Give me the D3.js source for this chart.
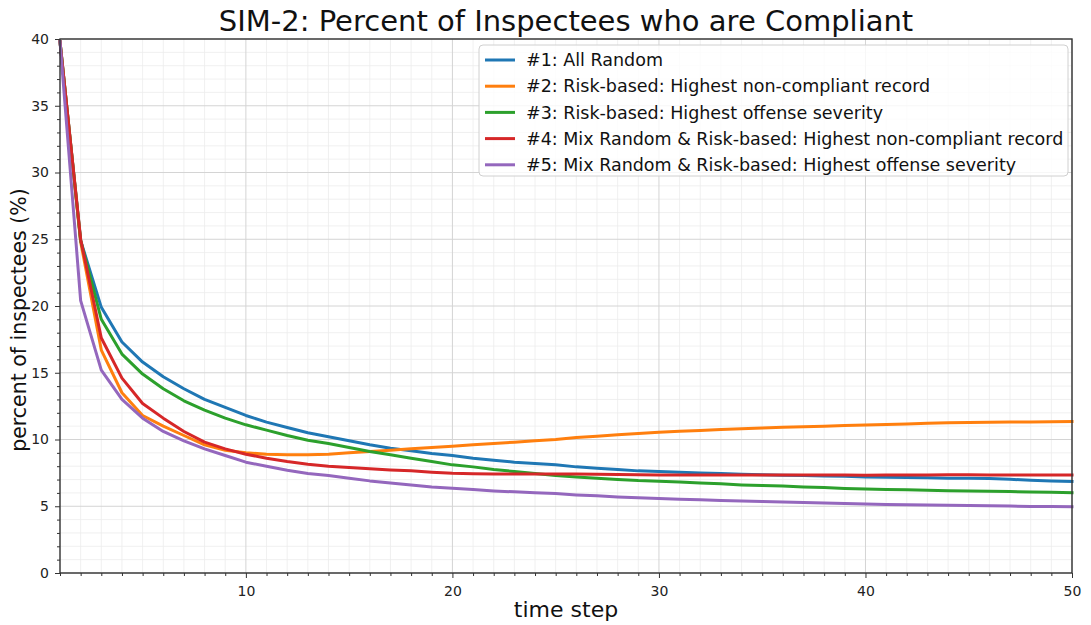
<!DOCTYPE html>
<html>
<head>
<meta charset="utf-8">
<script src="https://cdn.jsdelivr.net/npm/d3@7"></script>
<style>
  html, body { margin: 0; padding: 0; background: #fff; }
  svg { display: block; font-family: "DejaVu Sans", sans-serif; }
</style>
</head>
<body>
<svg id="chart" width="1091" height="625"></svg>
<script>
// Simulation output: percent of compliant inspectees per time step (1..50)
const timeSteps = d3.range(1, 51);

const seriesNames = [
  "#1: All Random",
  "#2: Risk-based: Highest non-compliant record",
  "#3: Risk-based: Highest offense severity",
  "#4: Mix Random & Risk-based: Highest non-compliant record",
  "#5: Mix Random & Risk-based: Highest offense severity"
];

const seriesColors = ["#1f77b4", "#ff7f0e", "#2ca02c", "#d62728", "#9467bd"];

const allRandom = [39.8, 24.9, 19.9, 17.3, 15.8, 14.7, 13.8, 13.0, 12.4, 11.8,
  11.3, 10.9, 10.5, 10.2, 9.9, 9.6, 9.35, 9.15, 8.95, 8.8,
  8.6, 8.45, 8.3, 8.2, 8.1, 7.95, 7.85, 7.75, 7.65, 7.6,
  7.55, 7.5, 7.45, 7.4, 7.36, 7.33, 7.3, 7.27, 7.24, 7.2,
  7.18, 7.15, 7.13, 7.1, 7.1, 7.08, 7.02, 6.95, 6.9, 6.85];

const riskRecord = [39.8, 24.8, 16.7, 13.5, 11.8, 11.0, 10.3, 9.6, 9.2, 9.0,
  8.9, 8.85, 8.85, 8.9, 9.0, 9.1, 9.2, 9.3, 9.4, 9.5,
  9.6, 9.7, 9.8, 9.9, 10.0, 10.15, 10.25, 10.35, 10.45, 10.55,
  10.62, 10.68, 10.74, 10.8, 10.86, 10.91, 10.96, 11.0, 11.05, 11.09,
  11.13, 11.17, 11.22, 11.26, 11.28, 11.3, 11.31, 11.32, 11.33, 11.34];

const riskSeverity = [39.8, 24.9, 19.0, 16.4, 14.9, 13.8, 12.9, 12.2, 11.6, 11.1,
  10.7, 10.3, 9.95, 9.7, 9.4, 9.1, 8.85, 8.6, 8.35, 8.1,
  7.95, 7.75, 7.6, 7.45, 7.3, 7.2, 7.1, 7.0, 6.92, 6.88,
  6.82, 6.75, 6.68, 6.6, 6.55, 6.52, 6.45, 6.4, 6.33, 6.29,
  6.26, 6.23, 6.2, 6.17, 6.15, 6.13, 6.1, 6.07, 6.04, 6.02];

const mixRecord = [39.8, 25.0, 17.6, 14.6, 12.7, 11.6, 10.6, 9.8, 9.3, 8.9,
  8.6, 8.35, 8.15, 8.0, 7.9, 7.8, 7.72, 7.65, 7.55, 7.47,
  7.44, 7.42, 7.42, 7.42, 7.42, 7.42, 7.4, 7.38, 7.36, 7.34,
  7.34, 7.34, 7.35, 7.35, 7.35, 7.35, 7.34, 7.34, 7.34, 7.33,
  7.34, 7.35, 7.35, 7.36, 7.36, 7.35, 7.35, 7.35, 7.35, 7.35];

const mixSeverity = [39.8, 20.4, 15.2, 13.0, 11.6, 10.6, 9.9, 9.3, 8.8, 8.3,
  8.0, 7.7, 7.45, 7.3, 7.1, 6.9, 6.75, 6.6, 6.45, 6.35,
  6.25, 6.15, 6.08, 6.02, 5.95, 5.85, 5.78, 5.7, 5.63, 5.58,
  5.53, 5.48, 5.44, 5.4, 5.36, 5.32, 5.28, 5.24, 5.2, 5.17,
  5.14, 5.11, 5.09, 5.07, 5.05, 5.03, 5.01, 4.99, 4.98, 4.97];

const seriesValues = [allRandom, riskRecord, riskSeverity, mixRecord, mixSeverity];

const xMajorTicks = [10, 20, 30, 40, 50];
const yMajorTicks = [0, 5, 10, 15, 20, 25, 30, 35, 40];

// Layout
const svg = d3.select("#chart");
const margin = { left: 60, right: 19, top: 39, bottom: 52 };
const W = 1091, H = 625;
const plotW = W - margin.left - margin.right;
const plotH = H - margin.top - margin.bottom;

const x = d3.scaleLinear().domain([1, 50]).range([margin.left, margin.left + plotW]);
const y = d3.scaleLinear().domain([0, 40]).range([margin.top + plotH, margin.top]);

const xMinor = d3.range(1, 51).filter(v => !xMajorTicks.includes(v));
const yMinor = d3.range(0, 41).filter(v => !yMajorTicks.includes(v));

// Grid: minor then major
const grid = svg.append("g");
grid.selectAll("line.xmin").data(xMinor).join("line")
  .attr("x1", d => x(d)).attr("x2", d => x(d))
  .attr("y1", y(0)).attr("y2", y(40))
  .attr("stroke", "#ececec").attr("stroke-width", 0.8);
grid.selectAll("line.ymin").data(yMinor).join("line")
  .attr("x1", x(1)).attr("x2", x(50))
  .attr("y1", d => y(d)).attr("y2", d => y(d))
  .attr("stroke", "#ececec").attr("stroke-width", 0.8);
grid.selectAll("line.xmaj").data(xMajorTicks).join("line")
  .attr("x1", d => x(d)).attr("x2", d => x(d))
  .attr("y1", y(0)).attr("y2", y(40))
  .attr("stroke", "#d4d4d4").attr("stroke-width", 1);
grid.selectAll("line.ymaj").data(yMajorTicks).join("line")
  .attr("x1", x(1)).attr("x2", x(50))
  .attr("y1", d => y(d)).attr("y2", d => y(d))
  .attr("stroke", "#d4d4d4").attr("stroke-width", 1);

// Series lines
const line = d3.line()
  .x((d, i) => x(timeSteps[i]))
  .y(d => y(d));

svg.append("g").selectAll("path").data(seriesValues).join("path")
  .attr("d", d => line(d))
  .attr("fill", "none")
  .attr("stroke", (d, i) => seriesColors[i])
  .attr("stroke-width", 3)
  .attr("stroke-linejoin", "round")
  .attr("stroke-linecap", "square");

// Axes
const axisColor = "#333";
const xAxis = svg.append("g").attr("transform", `translate(0,${y(0)})`)
  .call(d3.axisBottom(x).tickValues(xMajorTicks).tickSize(5).tickPadding(8).tickFormat(d3.format("d")));
const xAxisMinor = svg.append("g").attr("transform", `translate(0,${y(0)})`)
  .call(d3.axisBottom(x).tickValues(xMinor).tickSize(3).tickFormat(""));
const yAxis = svg.append("g").attr("transform", `translate(${x(1)},0)`)
  .call(d3.axisLeft(y).tickValues(yMajorTicks).tickSize(5).tickPadding(6).tickFormat(d3.format("d")));
const yAxisMinor = svg.append("g").attr("transform", `translate(${x(1)},0)`)
  .call(d3.axisLeft(y).tickValues(yMinor).tickSize(3).tickFormat(""));

[xAxis, xAxisMinor, yAxis, yAxisMinor].forEach(a => {
  a.select(".domain").remove();
  a.selectAll(".tick line").attr("stroke", axisColor).attr("stroke-width", 1);
  a.selectAll(".tick text").attr("fill", "#222").style("font-size", "14px")
    .style("font-family", "'DejaVu Sans', sans-serif");
});

// Frame
svg.append("rect")
  .attr("x", x(1)).attr("y", y(40))
  .attr("width", x(50) - x(1)).attr("height", y(0) - y(40))
  .attr("fill", "none").attr("stroke", axisColor).attr("stroke-width", 1.4);

// Title and axis labels
svg.append("text")
  .attr("x", (x(1) + x(50)) / 2).attr("y", 31)
  .attr("text-anchor", "middle")
  .style("font-size", "29px").attr("fill", "#111")
  .text("SIM-2: Percent of Inspectees who are Compliant");

svg.append("text")
  .attr("x", (x(1) + x(50)) / 2).attr("y", 617)
  .attr("text-anchor", "middle")
  .style("font-size", "22px").attr("fill", "#111")
  .text("time step");

svg.append("text")
  .attr("transform", `translate(26,320) rotate(-90)`)
  .attr("text-anchor", "middle")
  .style("font-size", "20.5px").attr("fill", "#111")
  .text("percent of inspectees (%)");

// Legend
const legend = svg.append("g").attr("transform", "translate(479,45)");
legend.append("rect")
  .attr("width", 589).attr("height", 131).attr("rx", 4)
  .attr("fill", "rgba(255,255,255,0.8)").attr("stroke", "#d0d0d0").attr("stroke-width", 1);
const rows = legend.selectAll("g.row").data(seriesNames).join("g")
  .attr("transform", (d, i) => `translate(0,${15 + i * 26.2})`);
rows.append("line")
  .attr("x1", 6).attr("x2", 36).attr("y1", 0).attr("y2", 0)
  .attr("stroke", (d, i) => seriesColors[i]).attr("stroke-width", 3);
rows.append("text")
  .attr("x", 47).attr("y", 0).attr("dy", "0.35em")
  .style("font-size", "17.5px").attr("fill", "#111")
  .text(d => d);
</script>
</body>
</html>
